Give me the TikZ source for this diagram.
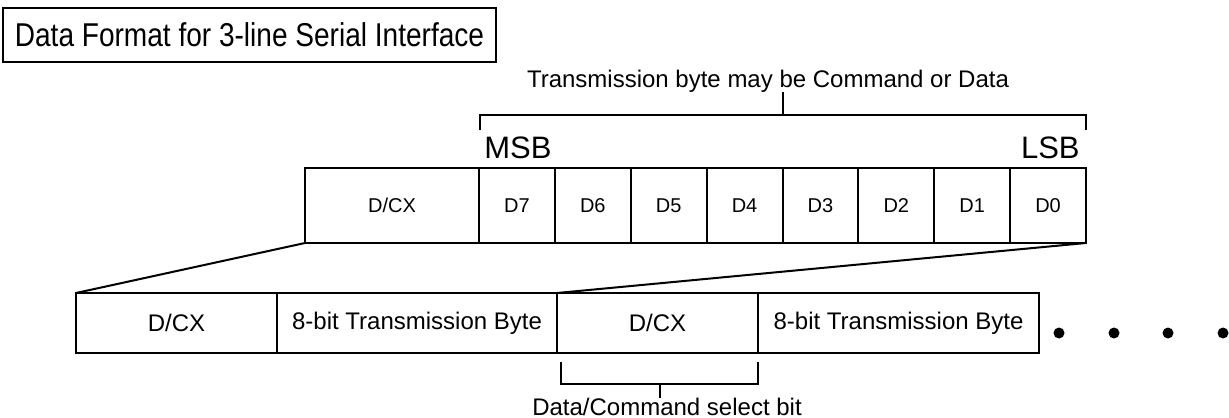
\documentclass[tikz,border=0pt]{standalone}
\usepackage{fontspec}
\setmainfont{Liberation Sans}
\newfontfamily\titlefont[FakeStretch=0.85]{Liberation Sans}
\usetikzlibrary{positioning}
\tikzset{
  bitcell/.style = {rectangle, draw, line width=1pt, inner sep=0pt,
                outer sep=0pt, minimum height=37.5pt, minimum width=#1,
                font=\fontsize{10}{12}\selectfont},
  bitcell/.default = 37.94pt,
  framecell/.style = {rectangle, draw, line width=1pt, inner sep=0pt,
                outer sep=0pt, minimum height=30pt, minimum width=#1,
                font=\fontsize{12}{14}\selectfont},
  bulletdot/.style = {circle, fill, minimum size=5.5pt,
                inner sep=0pt, outer sep=0pt}
}

\begin{document}
\begin{tikzpicture}[x=0.5pt, y=-0.5pt]
	\def \bw{75.875}   % one data bit
	\def \ty{205.5}    % top row
	\def \by{323}      % frame row
	\useasboundingbox (0,0) rectangle (1229,417);

	% Title
	\node[rectangle, draw, line width=1pt, minimum width=246.5pt, minimum height=27pt,
	      inner sep=0pt, font=\titlefont\fontsize{16.5}{18}\selectfont] (title) at (249.5,35)
	      {Data Format for 3-line Serial Interface};

	% Transmission byte
	\node[bitcell=87pt] (tdcx) at (392,\ty) {D/CX};
	\node[bitcell] (d7) at (479+0.5*\bw,\ty) {D7};
	\node[bitcell] (d6) at (479+1.5*\bw,\ty) {D6};
	\node[bitcell] (d5) at (479+2.5*\bw,\ty) {D5};
	\node[bitcell] (d4) at (479+3.5*\bw,\ty) {D4};
	\node[bitcell] (d3) at (479+4.5*\bw,\ty) {D3};
	\node[bitcell] (d2) at (479+5.5*\bw,\ty) {D2};
	\node[bitcell] (d1) at (479+6.5*\bw,\ty) {D1};
	\node[bitcell] (d0) at (479+7.5*\bw,\ty) {D0};

	\node[anchor=base west, inner sep=0pt, font=\fontsize{15.5}{18}\selectfont] (msb) at (484,158) {MSB};
	\node[anchor=base east, inner sep=0pt, font=\fontsize{15.5}{18}\selectfont] (lsb) at (1080,158) {LSB};

	% Bracket (top)
	\coordinate (brl) at (480,130);
	\coordinate (brr) at (1086,130);
	\coordinate (brtick) at (783,115);
	\draw[line width=1pt] (brl) -- ++(0,-15) -| (brr);
	\draw[line width=1pt] (brtick) -- ++(0,-23);
	\node[anchor=base, inner sep=0pt, font=\fontsize{12}{14}\selectfont] (tlabel) at (768,88)
	      {Transmission byte may be Command or Data};

	% Frame
	\node[framecell=100.5pt] (fdcx1) at (176.5,\by) {D/CX};
	\node[framecell=140pt]   (fbyte1) at (417,\by) {8-bit Transmission Byte};
	\node[framecell=100.5pt] (fdcx2) at (657.5,\by) {D/CX};
	\node[framecell=140.5pt] (fbyte2) at (898.5,\by) {8-bit Transmission Byte};

	\node[bulletdot] (dot1) at (1059,333) {};
	\node[bulletdot] (dot2) at (1114,333) {};
	\node[bulletdot] (dot3) at (1168,333) {};
	\node[bulletdot] (dot4) at (1223,333) {};

	% Zoom lines
	\draw[line width=1pt] (tdcx.south west) -- (fdcx1.north west);
	\draw[line width=1pt] (d0.south east) -- (fdcx2.north west);

	% Bracket (bottom)
	\coordinate (bbl) at (561,362);
	\coordinate (bbr) at (758,362);
	\coordinate (bbtick) at (660,384);
	\draw[line width=1pt] (bbl) -- ++(0,22) -| (bbr);
	\draw[line width=1pt] (bbtick) -- ++(0,14);
	\node[anchor=base, inner sep=0pt, font=\fontsize{12}{14}\selectfont] (blabel) at (667,415)
	      {Data/Command select bit};

\end{tikzpicture}
\end{document}
